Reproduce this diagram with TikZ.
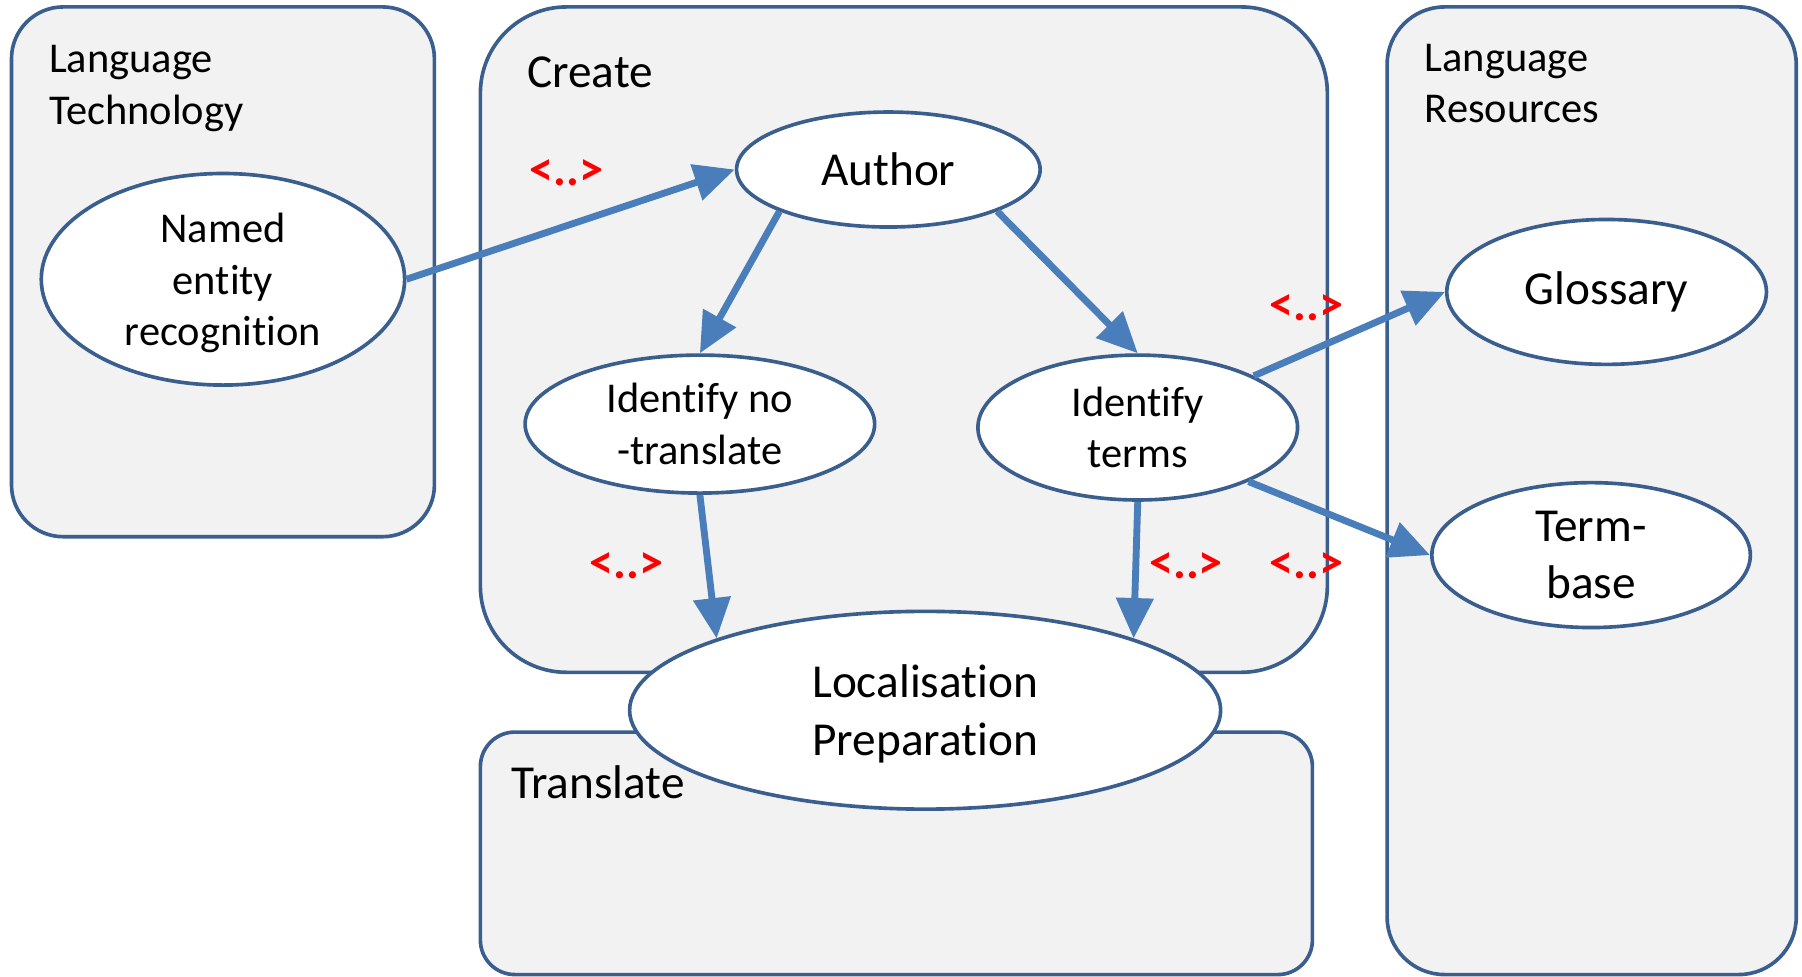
\documentclass[tikz,border=0pt]{standalone}
\usepackage{fontspec}
\setmainfont{Carlito}[Ligatures=NoCommon]
\usetikzlibrary{shapes.geometric,arrows.meta}
\definecolor{boxline}{HTML}{3A5F8F}
\definecolor{boxfill}{HTML}{F2F2F2}
\definecolor{arrowc}{HTML}{4A7EBB}
\definecolor{markred}{HTML}{FF0000}
\tikzset{
  region/.style={draw=boxline, fill=boxfill, line width=0.9pt},
  oval/.style={ellipse, draw=boxline, fill=white, line width=0.9pt, inner sep=0pt, align=center},
  nodepth/.style={text depth=0pt},
  smalltxt/.style={font=\fontsize{10.5}{12.8}\selectfont},
  bigtxt/.style={font=\fontsize{11.7}{14.2}\selectfont},
  flow/.style={draw=arrowc, line width=1.7pt, -{Triangle[length=10pt,width=9pt]}},
  marker/.style={text=markred, inner sep=0pt, font=\fontsize{11.9}{14}\selectfont\bfseries},
  boxlabel/.style={anchor=base west, align=left, inner sep=0pt},
}
\begin{document}
\begin{tikzpicture}[x=0.01cm,y=-0.01cm]
\useasboundingbox (0,0) rectangle (1568,850);
% regions
\draw[region, rounded corners=0.45cm] (10,6) rectangle (378,467);
\draw[region, rounded corners=0.75cm] (418,6) rectangle (1155,585);
\draw[region, rounded corners=0.3cm] (418,637) rectangle (1142,848);
\draw[region, rounded corners=0.5cm] (1207,6) rectangle (1563,848);
% region labels (base anchor = baseline of the last line)
\node[boxlabel, smalltxt] (lt) at (42,108) {Language\\Technology};
\node[boxlabel, bigtxt] (cr) at (458,76) {Create};
\node[boxlabel, bigtxt] (tr) at (444,695) {Translate};
\node[boxlabel, smalltxt] (lr) at (1239,107) {Language\\Resources};
% ellipses
\node[oval, nodepth, smalltxt, minimum width=3.16cm, minimum height=1.84cm] (ner) at (194,243) {Named\\entity\\recognition};
\node[oval, bigtxt, minimum width=2.64cm, minimum height=1.0cm] (author) at (773,147.5) {Author};
\node[oval, smalltxt, minimum width=3.04cm, minimum height=1.2cm] (nt) at (609,369) {Identify no\\-translate};
\node[oval, smalltxt, minimum width=2.78cm, minimum height=1.26cm] (terms) at (990,372) {Identify\\terms};
\node[oval, bigtxt, minimum width=2.78cm, minimum height=1.26cm] (gloss) at (1398,254) {Glossary};
\node[oval, nodepth, bigtxt, minimum width=2.77cm, minimum height=1.26cm] (tb) at (1384.5,483) {Term-\\base};
\node[oval, nodepth, bigtxt, minimum width=5.14cm, minimum height=1.72cm] (loc) at (805,618) {Localisation\\Preparation};
% connectors
\draw[flow] (ner.east) -- (author.west);
\draw[flow] (author.201) -- (nt.north);
\draw[flow] (author.-21) -- (terms.north);
\draw[flow] (nt.south) -- (loc.161);
\draw[flow] (terms.south) -- (loc.19);
\draw[flow] (terms.24) -- (gloss.west);
\draw[flow] (terms.-26) -- (tb.west);
% markers
\node[marker] (m1) at (493,150) {<..>};
\node[marker] (m2) at (545,492) {<..>};
\node[marker] (m3) at (1032,492) {<..>};
\node[marker] (m4) at (1137,492) {<..>};
\node[marker] (m5) at (1137,268) {<..>};
\end{tikzpicture}
\end{document}
